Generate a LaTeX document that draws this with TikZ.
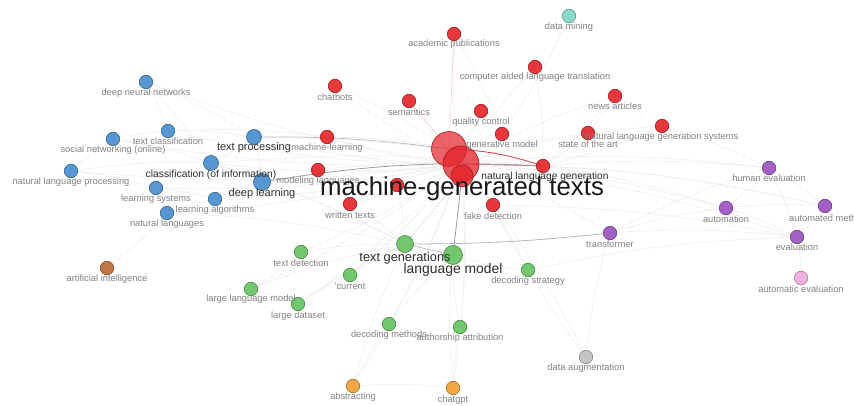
\documentclass[tikz,border=0pt]{standalone}
\usepackage{fontspec}
\setmainfont{Liberation Sans}
\usetikzlibrary{backgrounds}
\definecolor{cBlue}{RGB}{70,140,205}
\definecolor{cRed}{RGB}{228,35,40}
\definecolor{cGreen}{RGB}{100,195,95}
\definecolor{cPurple}{RGB}{155,80,190}
\definecolor{cCyan}{RGB}{125,215,195}
\definecolor{cBrown}{RGB}{185,105,50}
\definecolor{cOrange}{RGB}{240,160,50}
\definecolor{cGray}{RGB}{190,190,190}
\definecolor{cPink}{RGB}{240,170,220}
\definecolor{labgray}{RGB}{130,130,130}
\definecolor{labdark}{RGB}{45,45,45}
\begin{document}
\begin{tikzpicture}[x=1pt,y=-1pt,
  kw/.style={circle,inner sep=0pt,minimum size=13.5pt,fill=#1,draw=#1!70!black,
             line width=0.6pt,fill opacity=0.9},
  big/.style={minimum size=#1},
  tag/.style={inner sep=0pt,text=labgray,font=\fontsize{9.3}{10}\selectfont},
  tagmid/.style={inner sep=0pt,text=labdark,font=\fontsize{11}{11}\selectfont},
  tagbig/.style={inner sep=0pt,text=labdark,font=\fontsize{13.9}{14}\selectfont},
  taghuge/.style={inner sep=0pt,text=black!90,font=\fontsize{25.8}{26}\selectfont},
  link/.style={draw=black!7,line width=0.5pt},
  linkred/.style={draw=cRed!80!black,line width=0.9pt,opacity=0.75},
  linkdark/.style={draw=black!40,line width=0.75pt},
]
\useasboundingbox (0,0) rectangle (854,406);

% ---- blue cluster
\node[kw=cBlue] (dnn) at (146,82) {};
\node[kw=cBlue] (tcl) at (168,131) {};
\node[kw=cBlue] (snw) at (113,139) {};
\node[kw=cBlue,big=15pt] (tpr) at (254,137) {};
\node[kw=cBlue,big=15pt] (cls) at (211,163) {};
\node[kw=cBlue] (nlp) at (71,171) {};
\node[kw=cBlue] (lsy) at (156,188) {};
\node[kw=cBlue,big=17pt] (dl) at (262,182) {};
\node[kw=cBlue] (lal) at (215,199) {};
\node[kw=cBlue] (nla) at (167,213) {};
% ---- brown
\node[kw=cBrown] (ai) at (107,268) {};
% ---- red cluster
\node[kw=cRed] (acp) at (454,34) {};
\node[kw=cRed] (cht) at (335,86) {};
\node[kw=cRed] (cal) at (535,67) {};
\node[kw=cRed] (nws) at (615,96) {};
\node[kw=cRed] (sem) at (409,101) {};
\node[kw=cRed] (qc) at (481,111) {};
\node[kw=cRed] (nlgs) at (662,126) {};
\node[kw=cRed] (sota) at (588,133) {};
\node[kw=cRed] (gm) at (502,134) {};
\node[kw=cRed] (ml) at (327,137) {};
\node[kw=cRed,big=35pt,fill opacity=0.7] (mgtA) at (449,149) {};
\node[kw=cRed,big=36pt,fill opacity=0.75] (mgtB) at (461,164) {};
\node[kw=cRed,big=22pt,fill opacity=0.8] (mgtC) at (462,176) {};
\node[kw=cRed] (nlg) at (543,166) {};
\node[kw=cRed] (mol) at (318,170) {};
\node[kw=cRed] (hid) at (397,185) {};
\node[kw=cRed] (wt) at (350,204) {};
\node[kw=cRed] (fd) at (493,205) {};
% ---- cyan
\node[kw=cCyan] (dm) at (569,16) {};
% ---- purple cluster
\node[kw=cPurple] (he) at (769,168) {};
\node[kw=cPurple] (aut) at (726,208) {};
\node[kw=cPurple] (am) at (825,206) {};
\node[kw=cPurple] (tr) at (610,233) {};
\node[kw=cPurple] (ev) at (797,237) {};
% ---- pink
\node[kw=cPink] (ae) at (801,278) {};
% ---- green cluster
\node[kw=cGreen,big=17pt] (tg) at (405,244) {};
\node[kw=cGreen,big=19pt] (lm) at (453,255) {};
\node[kw=cGreen] (td) at (301,252) {};
\node[kw=cGreen] (ds) at (528,270) {};
\node[kw=cGreen] (cur) at (350,275) {};
\node[kw=cGreen] (llm) at (251,289) {};
\node[kw=cGreen] (ld) at (298,304) {};
\node[kw=cGreen] (dmth) at (389,324) {};
\node[kw=cGreen] (aa) at (460,327) {};
% ---- grey and orange
\node[kw=cGray] (da) at (586,357) {};
\node[kw=cOrange] (abs) at (353,386) {};
\node[kw=cOrange] (gpt) at (453,388) {};

% ---- white canvas and connections, kept behind the circles
\begin{pgfonlayer}{background}
\fill[white] (0,0) rectangle (854,406);
\foreach \t in {dnn,tcl,snw,tpr,cls,nlp,lsy,dl,lal,nla,acp,cht,cal,nws,sem,qc,
                nlgs,sota,gm,ml,mol,wt,fd,he,aut,am,tr,ev,td,ds,cur,llm,ld,
                dmth,aa,da,abs,gpt}
  \draw[link] (mgtB.center) to[bend left=6] (\t.center);
\foreach \a/\b in {dnn/tcl,dnn/cls,dnn/tpr,snw/tcl,snw/cls,nlp/cls,nlp/lsy,nlp/snw,
                   lsy/lal,lal/dl,nla/lal,nla/ai,tpr/cls,tpr/dl,cls/dl,tcl/tpr,
                   tpr/nlg,cls/nlg,tcl/ml,acp/gm,cal/nlg,nws/sota,nws/nlg,nlgs/nlg,
                   nlgs/he,sota/nlg,cht/mgtA,ml/mgtA,mol/nlg,he/aut,he/am,he/ev,
                   aut/am,aut/ev,am/ev,ev/ae,tr/aut,tr/ev,tr/he,nlg/he,nlg/am,
                   nlg/aut,td/llm,td/tg,llm/ld,ld/cur,cur/tg,dmth/lm,aa/lm,ds/lm,
                   abs/gpt,abs/tg,gpt/lm,gpt/aa,abs/dmth,da/tr,da/fd,llm/tg,ld/tg,
                   dm/gm,fd/ev,ds/ev,wt/tg,hid/tg,cls/tg,dl/tg,nla/tg}
  \draw[link] (\a.center) to[bend left=5] (\b.center);
\draw[link,draw=cRed!30] (sem.center) -- (mgtA.center);
\draw[link,draw=cRed!25] (acp.center) -- (mgtA.center);
\draw[linkred] (mgtA.center) to[bend left=8] (nlg.center);
\draw[linkred,opacity=0.5] (mgtB.center) -- (nlg.center);
\draw[linkdark] (dl.center) to[bend left=6] (nlg.center);
\draw[linkdark,draw=black!25] (tpr.center) to[bend left=4] (mgtA.center);
\draw[linkdark] (mgtC.center) -- (lm.center);
\draw[linkdark,draw=black!30] (tg.center) to[bend right=3] (tr.center);
\draw[linkdark,draw=black!25] (tg.center) -- (lm.center);
\draw[link,draw=black!15] (mgtC.center) -- (tg.center);
\end{pgfonlayer}

% ---- labels
\node[tag] (l-dnn) at (146,93) {deep neural networks};
\node[tag] (l-tcl) at (168,141) {text classification};
\node[tag] (l-snw) at (113,150) {social networking (online)};
\node[tagmid] (l-tpr) at (254,148) {text processing};
\node[tagmid,font=\fontsize{10.3}{11}\selectfont] (l-cls) at (211,175) {classification (of information)};
\node[tag] (l-nlp) at (71,182) {natural language processing};
\node[tag] (l-lsy) at (156,199) {learning systems};
\node[tagmid] (l-dl) at (262,194) {deep learning};
\node[tag] (l-lal) at (215,210) {learning algorithms};
\node[tag] (l-nla) at (167,224) {natural languages};
\node[tag] (l-ai) at (107,279) {artificial intelligence};
\node[tag] (l-acp) at (454,44) {academic publications};
\node[tag] (l-cht) at (335,97) {chatbots};
\node[tag] (l-cal) at (535,77) {computer aided language translation};
\node[tag] (l-nws) at (615,106) {news articles};
\node[tag] (l-sem) at (409,112) {semantics};
\node[tag] (l-qc) at (481,122) {quality control};
\node[tag] (l-nlgs) at (662,137) {natural language generation systems};
\node[tag] (l-sota) at (588,144) {state of the art};
\node[tag] (l-gm) at (502,145) {generative model};
\node[tag] (l-ml) at (327,148) {machine-learning};
\node[tag,font=\fontsize{10.2}{11}\selectfont,text=labdark] (l-nlg) at (545,177) {natural language generation};
\node[tag] (l-mol) at (318,181) {modeling languages};
\node[tag] (l-wt) at (350,215) {written texts};
\node[tag] (l-fd) at (493,216) {fake detection};
\node[tag] (l-dm) at (569,27) {data mining};
\node[tag] (l-he) at (769,178) {human evaluation};
\node[tag] (l-aut) at (726,219) {automation};
\node[tag,anchor=west] (l-am) at (789,218) {automated methods};
\node[tag] (l-tr) at (610,244) {transformer};
\node[tag] (l-ev) at (797,247) {evaluation};
\node[tag] (l-ae) at (801,289) {automatic evaluation};
\node[tagbig,font=\fontsize{12.8}{13}\selectfont] (l-tg) at (405,258) {text generations};
\node[tagbig] (l-lm) at (453,270) {language model};
\node[tag] (l-td) at (301,263) {text detection};
\node[tag] (l-ds) at (528,281) {decoding strategy};
\node[tag] (l-cur) at (350,286) {'current};
\node[tag] (l-llm) at (251,299) {large language model};
\node[tag] (l-ld) at (298,316) {large dataset};
\node[tag] (l-dmth) at (389,335) {decoding methods};
\node[tag] (l-aa) at (460,338) {authorship attribution};
\node[tag] (l-da) at (586,368) {data augmentation};
\node[tag] (l-abs) at (353,397) {abstracting};
\node[tag] (l-gpt) at (453,400) {chatgpt};
\node[taghuge] (l-mgt) at (462,189) {machine-generated texts};
\end{tikzpicture}
\end{document}
